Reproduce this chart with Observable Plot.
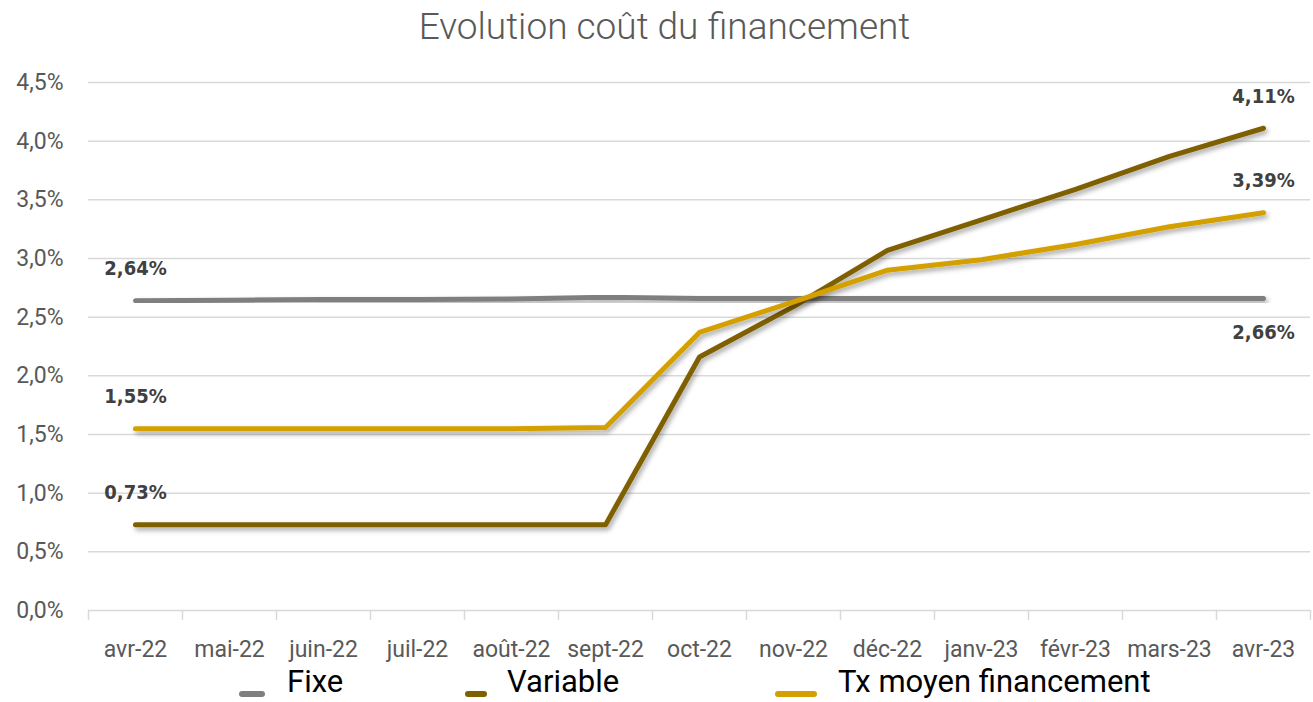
<!DOCTYPE html>
<html>
<head>
<meta charset="utf-8">
<script src="https://cdn.jsdelivr.net/npm/d3@7"></script>
<script src="https://cdn.jsdelivr.net/npm/@observablehq/plot@0.6"></script>
<style>
  html, body { margin: 0; padding: 0; background: #fff; }
  #wrap { width: 1313px; height: 702px; position: relative; overflow: hidden; }
  #title { height: 56px; line-height: 53px; text-align: center; font-family: Roboto, sans-serif; font-weight: 300; font-size: 37px; color: #595959; padding-left: 16px; box-sizing: border-box; }
  #legend { position: relative; height: 46px; font-family: Roboto, sans-serif; font-size: 31px; color: #000; }
  .sw { position: absolute; top: 35px; height: 6px; border-radius: 3px; }
  .lt { position: absolute; top: 10px; line-height: 32px; white-space: nowrap; }
</style>
</head>
<body>
<div id="wrap">
  <div id="title">Evolution coût du financement</div>
  <div id="chart"></div>
  <div id="legend"></div>
</div>
<script>
const months = ["avr-22","mai-22","juin-22","juil-22","août-22","sept-22","oct-22","nov-22","déc-22","janv-23","févr-23","mars-23","avr-23"];
const seriesNames = ["Fixe","Variable","Tx moyen financement"];
const seriesColors = ["#7f7f7f","#7f6000","#d4a000"];
const fixe     = [2.64, 2.645, 2.65, 2.65, 2.655, 2.67, 2.66, 2.66, 2.66, 2.66, 2.66, 2.66, 2.66];
const variable = [0.73, 0.73, 0.73, 0.73, 0.73, 0.73, 2.16, 2.59, 3.07, 3.33, 3.59, 3.87, 4.11];
const txMoyen  = [1.55, 1.55, 1.55, 1.55, 1.55, 1.56, 2.37, 2.63, 2.90, 2.99, 3.12, 3.27, 3.39];
const yTicks = [0, 0.5, 1, 1.5, 2, 2.5, 3, 3.5, 4, 4.5];

const allValues = [fixe, variable, txMoyen];
const data = [];
allValues.forEach((vals, s) => vals.forEach((v, i) => data.push({series: seriesNames[s], i, v})));

// end labels: first and last point of each series
const labels = [];
allValues.forEach((vals, s) => {
  labels.push({series: seriesNames[s], i: 0, v: vals[0], below: false});
  labels.push({series: seriesNames[s], i: vals.length - 1, v: vals[vals.length - 1], below: s === 0});
});

const fmt = v => v.toFixed(2).replace(".", ",") + "%";
const yfmt = v => v.toFixed(1).replace(".", ",") + "%";
const bounds = d3.range(months.length + 1).map(k => k - 0.5);

const plot = Plot.plot({
  width: 1313,
  height: 600,
  marginLeft: 88,
  marginRight: 3,
  marginTop: 26,
  marginBottom: 46,
  style: {fontFamily: "Roboto, sans-serif", background: "transparent", overflow: "visible"},
  x: {type: "linear", domain: [-0.5, months.length - 0.5], label: null},
  y: {domain: [0, 4.5], label: null},
  color: {domain: seriesNames, range: seriesColors},
  marks: [
    Plot.ruleY(yTicks, {stroke: "#d9d9d9", strokeWidth: 1.5}),
    Plot.axisX(bounds, {tickSize: 10, tickFormat: () => "", stroke: "#d9d9d9", strokeWidth: 1.5, strokeOpacity: 1, label: null}),
    Plot.axisX(d3.range(months.length), {tickSize: 0, tickPadding: 30, tickFormat: i => months[i], fontSize: 23, fill: "#595959", label: null}),
    Plot.axisY(yTicks, {tickSize: 0, tickPadding: 25, tickFormat: yfmt, fontSize: 23, fill: "#595959", label: null}),
    Plot.line(data, {x: "i", y: "v", z: "series", stroke: "series", strokeWidth: 5, strokeLinecap: "round", strokeLinejoin: "round"}),
    Plot.text(labels, {x: "i", y: "v", text: d => fmt(d.v), fill: "#404040", fontSize: 20, fontWeight: 600,
      fontFamily: "'DejaVu Sans Condensed', sans-serif", dy: -32}),
  ]
});
document.getElementById("chart").appendChild(plot);

// shadow filter + label repositioning
const svg = d3.select(plot);
const defs = svg.insert("defs", ":first-child");
const f = defs.append("filter").attr("id", "shadow").attr("x", "-5%").attr("y", "-50%").attr("width", "110%").attr("height", "200%");
f.append("feDropShadow").attr("dx", 2).attr("dy", 3).attr("stdDeviation", 2.5).attr("flood-color", "#000").attr("flood-opacity", 0.35);
svg.selectAll("g[aria-label=line] path").attr("filter", "url(#shadow)");
svg.selectAll("g[aria-label=text] text").each(function(d, k) {
  if (labels[k] && labels[k].below) d3.select(this).attr("transform", (d3.select(this).attr("transform") || "") + " translate(0,66)");
});

// legend
const legend = document.getElementById("legend");
const lx = [{sw: 239, w: 26, tx: 287}, {sw: 465, w: 22, tx: 507}, {sw: 775, w: 42, tx: 838}];
seriesNames.forEach((name, s) => {
  const sw = document.createElement("div");
  sw.className = "sw";
  sw.style.left = lx[s].sw + "px";
  sw.style.width = lx[s].w + "px";
  sw.style.background = seriesColors[s];
  const t = document.createElement("div");
  t.className = "lt";
  t.style.left = lx[s].tx + "px";
  t.textContent = name;
  legend.appendChild(sw); legend.appendChild(t);
});
</script>
</body>
</html>
